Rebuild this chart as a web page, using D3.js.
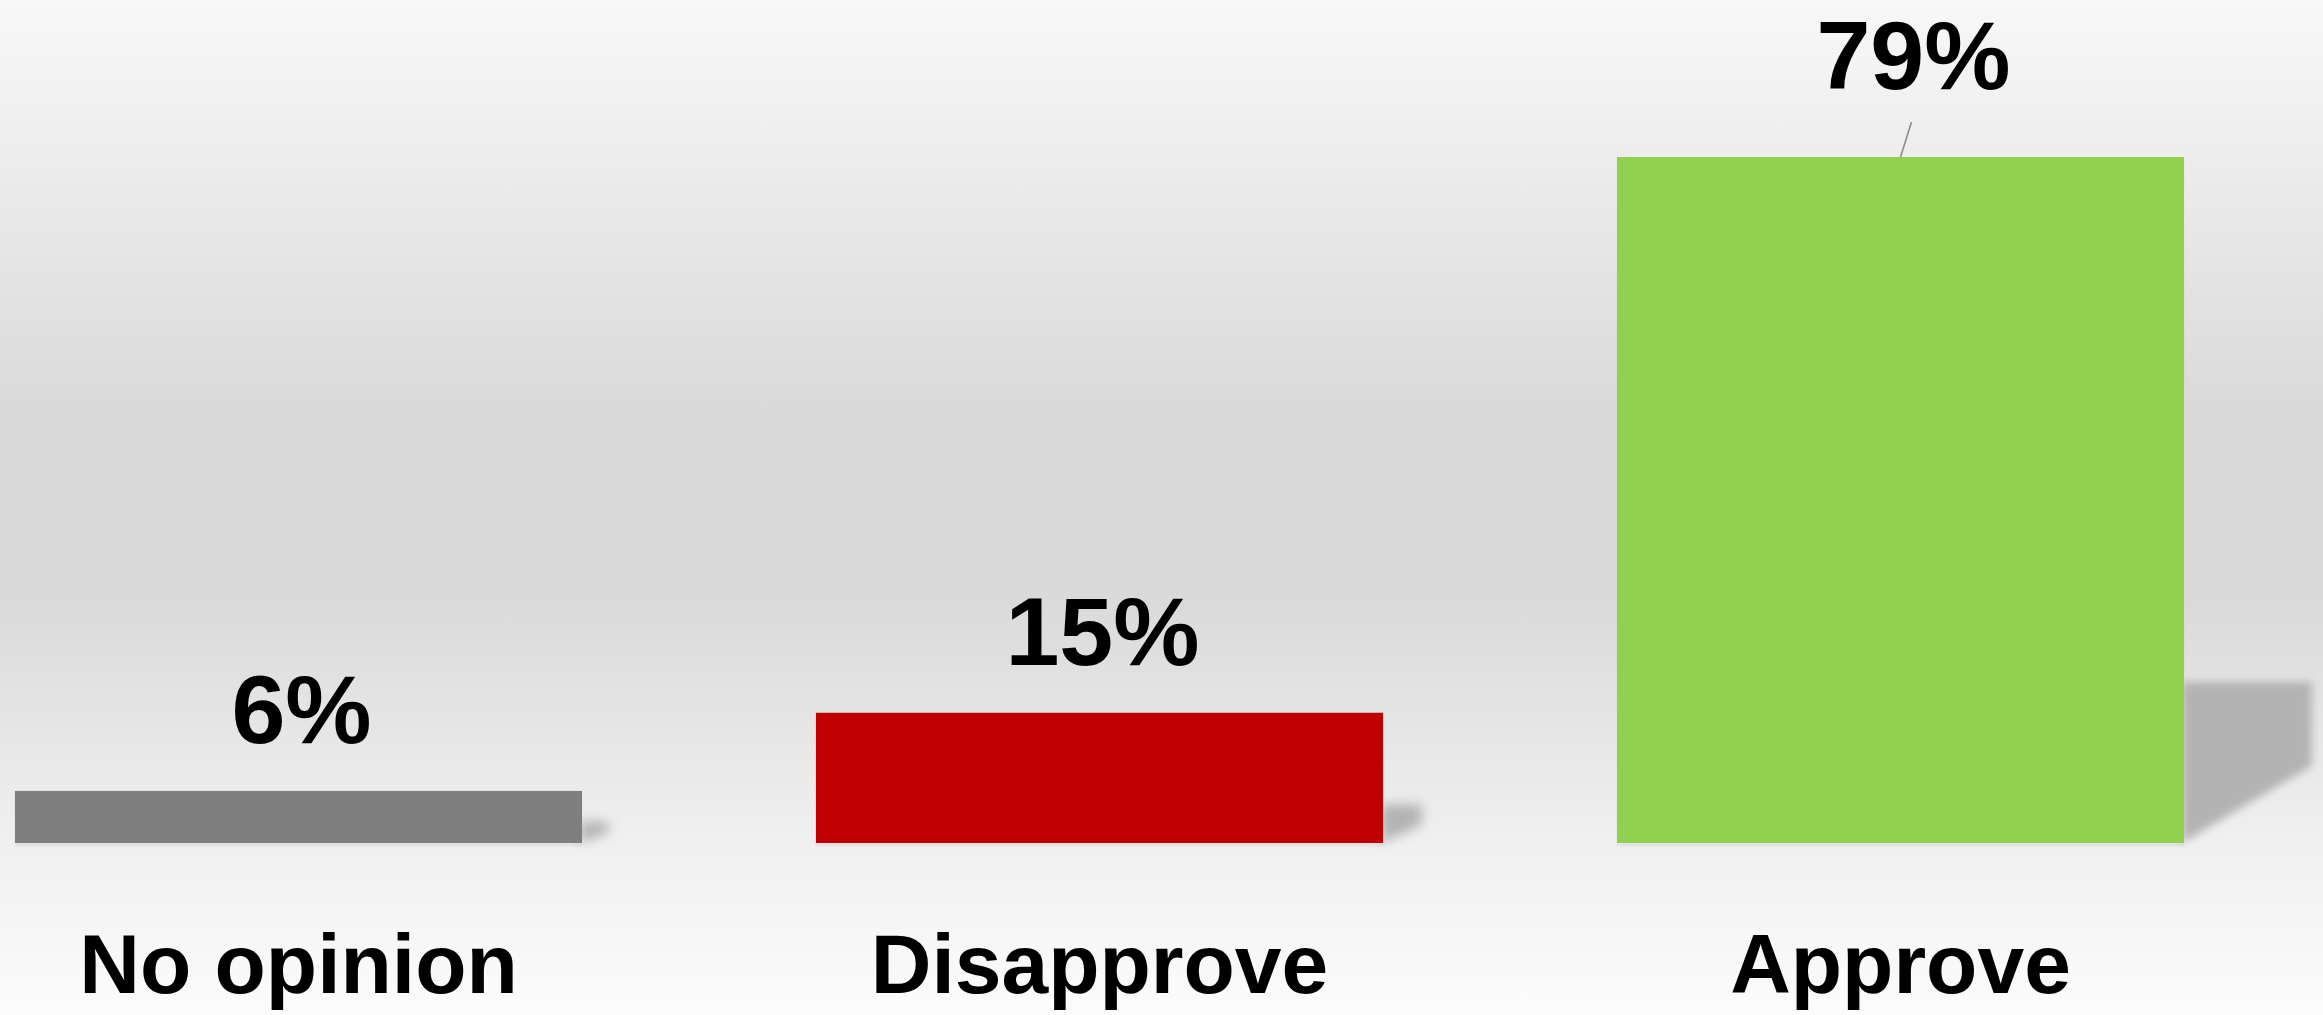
<!DOCTYPE html>
<html>
<head>
<meta charset="utf-8">
<script src="https://d3js.org/d3.v7.min.js"></script>
<style>
  body { margin: 0; overflow: hidden; }
  text { font-family: "Liberation Sans", Arial, sans-serif; font-weight: bold; fill: #000; }
</style>
</head>
<body>
<svg id="chart"></svg>
<script>
  // data
  var categories = ['No opinion', 'Disapprove', 'Approve']
  var values = [6, 15, 79]
  var valueLabels = ['6%', '15%', '79%']
  var colors = ['#7f7f7f', '#c00000', '#92d050']

  var W = 2323, H = 1015
  var svg = d3.select('#chart').attr('width', W).attr('height', H)

  // background gradient
  var defs = svg.append('defs')
  var grad = defs.append('linearGradient').attr('id', 'bg')
      .attr('x1', 0).attr('y1', 0).attr('x2', 0).attr('y2', 1)
  var stops = [[0, '#f8f8f8'], [0.1, '#f1f1f1'], [0.4, '#dadada'], [0.58, '#d9d9d9'], [0.83, '#f0f0f0'], [1, '#fcfcfc']]
  grad.selectAll('stop').data(stops).enter().append('stop')
      .attr('offset', function (d) {return d[0]})
      .attr('stop-color', function (d) {return d[1]})
  svg.append('rect').attr('width', W).attr('height', H).attr('fill', 'url(#bg)')

  defs.append('filter').attr('id', 'blur').attr('x', '-50%').attr('y', '-50%').attr('width', '200%').attr('height', '200%')
      .append('feGaussianBlur').attr('stdDeviation', 4)
  defs.append('filter').attr('id', 'blurS').attr('x', '-50%').attr('y', '-50%').attr('width', '200%').attr('height', '200%')
      .append('feGaussianBlur').attr('stdDeviation', 6)
  defs.append('filter').attr('id', 'blur2').attr('x', '-50%').attr('y', '-50%').attr('width', '200%').attr('height', '200%')
      .append('feGaussianBlur').attr('stdDeviation', 1.2)

  // scales
  var x = d3.scaleBand().domain(categories).range([-102, 2301]).paddingInner(0.292).paddingOuter(0.146)
  var y = d3.scaleLinear().domain([0, 79]).range([843, 157])
  var base = y(0)

  // perspective shadows behind the bars
  svg.selectAll('.shadow').data(values).enter().append('polygon')
      .attr('class', 'shadow')
      .attr('points', function (d, i) {
        var xr = x(categories[i]) + x.bandwidth()
        var h = base - y(d)
        var top = base - (0.22 * h + 10)
        var dx = 0.16 * h + 18
        var mid = top + 0.52 * (base - top)
        return [[xr - 2, base], [xr - 2, top], [xr + dx, top], [xr + dx, mid]].join(' ')
      })
      .attr('fill', '#b3b3b3')
      .attr('filter', function (d) {return d > 40 ? 'url(#blur)' : 'url(#blurS)'})

  // thin contact shadow under bars
  svg.selectAll('.under').data(values).enter().append('rect')
      .attr('class', 'under')
      .attr('x', function (d, i) {return x(categories[i])})
      .attr('y', base)
      .attr('width', x.bandwidth())
      .attr('height', 3)
      .attr('fill', '#000').attr('opacity', 0.07)
      .attr('filter', 'url(#blur2)')

  // bars
  svg.selectAll('.bar').data(values).enter().append('rect')
      .attr('class', 'bar')
      .attr('x', function (d, i) {return x(categories[i])})
      .attr('y', function (d) {return y(d)})
      .attr('width', x.bandwidth())
      .attr('height', function (d) {return base - y(d)})
      .attr('fill', function (d, i) {return colors[i]})

  // the Approve label was dragged up, joined by a leader line
  var moved = {'Approve': [13, -20]}

  svg.selectAll('.leader').data(categories.filter(function (c) {return moved[c]})).enter().append('line')
      .attr('class', 'leader')
      .attr('x1', function (c) {return x(c) + x.bandwidth() / 2})
      .attr('y1', function (c) {return y(values[categories.indexOf(c)])})
      .attr('x2', function (c) {return x(c) + x.bandwidth() / 2 + 11})
      .attr('y2', function (c) {return y(values[categories.indexOf(c)]) - 35})
      .attr('stroke', '#8c8c8c').attr('stroke-width', 1.6)

  // value labels
  svg.selectAll('.val').data(values).enter().append('text')
      .attr('class', 'val')
      .attr('x', function (d, i) {
        var c = categories[i]
        return x(c) + x.bandwidth() / 2 + (moved[c] ? moved[c][0] : 3)
      })
      .attr('y', function (d, i) {
        var c = categories[i]
        return y(d) - 48 + (moved[c] ? moved[c][1] : 0)
      })
      .attr('text-anchor', 'middle')
      .attr('font-size', 97)
      .text(function (d, i) {return valueLabels[i]})

  // category labels
  svg.selectAll('.cat').data(categories).enter().append('text')
      .attr('class', 'cat')
      .attr('x', function (d) {return x(d) + x.bandwidth() / 2})
      .attr('y', 993)
      .attr('text-anchor', 'middle')
      .attr('font-size', 84)
      .text(function (d) {return d})
</script>
</body>
</html>
